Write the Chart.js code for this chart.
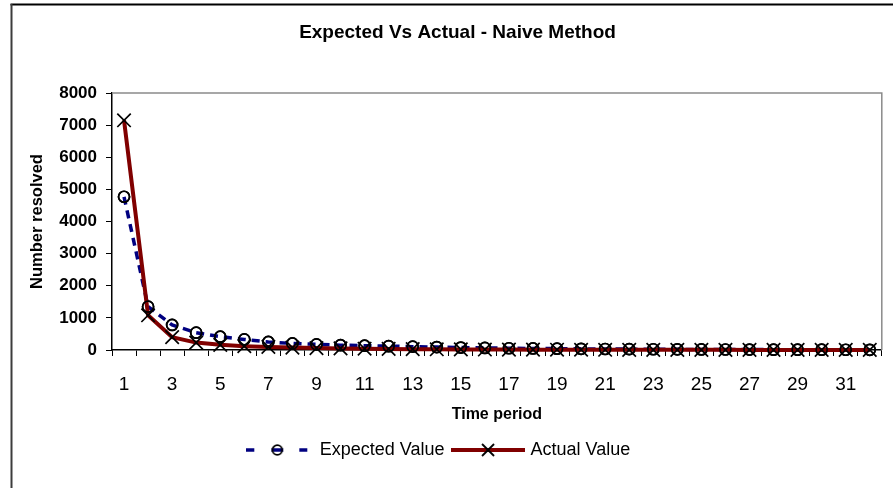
<!DOCTYPE html>
<html>
<head>
<meta charset="utf-8">
<title>Expected Vs Actual - Naive Method</title>
<script src="https://cdn.jsdelivr.net/npm/chart.js@4.4.1/dist/chart.umd.min.js"></script>
<style>
  html, body { margin: 0; padding: 0; background: #fff; }
  #wrap { width: 893px; height: 488px; position: relative; }
</style>
</head>
<body>
<div id="wrap"><canvas id="chart" width="893" height="488"></canvas></div>
<script>
// Time periods on the x axis
const periods = ['1','2','3','4','5','6','7','8','9','10','11','12','13','14','15','16',
                 '17','18','19','20','21','22','23','24','25','26','27','28','29','30','31','32'];

// Number resolved per period
const expectedValues = [4770, 1350, 780, 540, 415, 330, 250, 205, 175, 150, 135, 120, 105, 90, 75, 65,
                        55, 48, 42, 36, 31, 27, 23, 20, 17, 15, 13, 11, 10, 9, 8, 7];
const actualValues   = [7150, 1080, 400, 230, 160, 120, 95, 75, 60, 50, 40, 33, 27, 22, 18, 15,
                        12, 10, 9, 8, 7, 6, 5, 5, 4, 4, 3, 3, 3, 2, 2, 2];

// Value axis tick marks
const yTicks = [0, 1000, 2000, 3000, 4000, 5000, 6000, 7000, 8000];

const seriesNames = ['Expected Value', 'Actual Value'];
const chartTitle = 'Expected Vs Actual - Naive Method';

const FONT = "'Liberation Sans', Arial, Helvetica, sans-serif";
Chart.defaults.font.family = FONT;
Chart.defaults.color = '#000';

// Small line-and-marker samples for the legend
function swatchExpected() {
  const c = document.createElement('canvas');
  c.width = 62; c.height = 14;
  const g = c.getContext('2d');
  g.strokeStyle = '#000080';
  g.lineWidth = 3.5;
  [[0, 8], [25, 37], [53, 61]].forEach(([a, b]) => {
    g.beginPath(); g.moveTo(a, 7); g.lineTo(b, 7); g.stroke();
  });
  g.strokeStyle = '#000';
  g.lineWidth = 1.8;
  g.beginPath(); g.arc(31, 7, 4.8, 0, Math.PI * 2); g.stroke();
  return c;
}
function swatchActual() {
  const c = document.createElement('canvas');
  c.width = 74; c.height = 16;
  const g = c.getContext('2d');
  g.strokeStyle = '#800000';
  g.lineWidth = 4;
  g.beginPath(); g.moveTo(0, 8); g.lineTo(74, 8); g.stroke();
  g.strokeStyle = '#000';
  g.lineWidth = 1.8;
  g.beginPath();
  g.moveTo(31, 2); g.lineTo(43, 14);
  g.moveTo(43, 2); g.lineTo(31, 14);
  g.stroke();
  return c;
}
const swatches = [swatchExpected(), swatchActual()];

// Page frame, plot-area outline and the chart heading
const framePlugin = {
  id: 'frame',
  beforeDraw(chart) {
    const ctx = chart.ctx;
    ctx.save();
    ctx.fillStyle = '#fff';
    ctx.fillRect(0, 0, chart.width, chart.height);
    ctx.lineWidth = 2;
    ctx.strokeStyle = '#000';
    ctx.beginPath(); ctx.moveTo(10.5, 4.5); ctx.lineTo(chart.width, 4.5); ctx.stroke();
    ctx.strokeStyle = '#3c3c3c';
    ctx.beginPath(); ctx.moveTo(11.5, 4); ctx.lineTo(11.5, chart.height); ctx.stroke();
    ctx.font = 'bold 19px ' + FONT;
    ctx.fillStyle = '#000';
    ctx.textAlign = 'center';
    ctx.textBaseline = 'alphabetic';
    ctx.fillText(chartTitle, 457.5, 37.5);
    ctx.restore();
  },
  beforeDatasetsDraw(chart) {
    const {ctx, chartArea: a} = chart;
    ctx.save();
    ctx.strokeStyle = '#8a8a8a';
    ctx.lineWidth = 1.5;
    ctx.beginPath();
    ctx.moveTo(a.left, a.top); ctx.lineTo(a.right, a.top); ctx.lineTo(a.right, a.bottom);
    ctx.stroke();
    ctx.restore();
  },
  // keep the circle markers above the solid line
  afterDatasetsDraw(chart) {
    const meta = chart.getDatasetMeta(0);
    meta.data.forEach(pt => pt.draw(chart.ctx, chart.chartArea));
  }
};

new Chart(document.getElementById('chart'), {
  type: 'line',
  data: {
    labels: periods,
    datasets: [
      {
        label: seriesNames[0],
        data: expectedValues,
        order: 2,
        borderColor: '#000080',
        borderWidth: 3.5,
        borderDash: [8, 6],
        tension: 0,
        fill: false,
        clip: false,
        pointStyle: 'circle',
        pointRadius: 5.5,
        pointHoverRadius: 5.5,
        pointBorderColor: '#000',
        pointBorderWidth: 1.7,
        pointBackgroundColor: 'rgba(0,0,0,0)'
      },
      {
        label: seriesNames[1],
        data: actualValues,
        order: 1,
        borderColor: '#800000',
        borderWidth: 4,
        tension: 0,
        fill: false,
        clip: false,
        pointStyle: 'crossRot',
        pointRadius: 9.5,
        pointHoverRadius: 9.5,
        pointBorderColor: '#000',
        pointBorderWidth: 1.7,
        pointBackgroundColor: '#000'
      }
    ]
  },
  options: {
    responsive: false,
    animation: false,
    events: [],
    layout: { padding: { top: 93, left: -12, right: 7, bottom: 19 } },
    plugins: {
      title: { display: false },
      tooltip: { enabled: false },
      legend: {
        display: true,
        position: 'bottom',
        labels: {
          usePointStyle: true,
          pointStyleWidth: 67,
          boxHeight: 18,
          padding: 10,
          font: { size: 18 },
          color: '#000',
          generateLabels(chart) {
            return chart.data.datasets.map((ds, i) => ({
              text: ds.label,
              pointStyle: swatches[i],
              fillStyle: 'rgba(0,0,0,0)',
              strokeStyle: 'rgba(0,0,0,0)',
              lineWidth: 0,
              hidden: false,
              datasetIndex: i,
              fontColor: '#000'
            }));
          }
        }
      }
    },
    scales: {
      x: {
        type: 'category',
        offset: true,
        afterFit(scale) { scale.height = 81; },
        grid: {
          offset: true,
          drawOnChartArea: false,
          drawTicks: true,
          tickLength: 6,
          tickColor: '#000',
          tickWidth: 1
        },
        border: { display: true, color: '#000', width: 1.5 },
        ticks: {
          autoSkip: false,
          maxRotation: 0,
          minRotation: 0,
          padding: 17,
          font: { size: 19 },
          color: '#000',
          callback(value, index) { return index % 2 === 0 ? periods[index] : ''; }
        },
        title: {
          display: true,
          text: 'Time period',
          font: { size: 16, weight: 'bold' },
          color: '#000',
          padding: { top: 0, bottom: 7 }
        }
      },
      y: {
        type: 'linear',
        min: 0,
        max: 8000,
        afterFit(scale) { scale.width = 124; },
        afterBuildTicks(scale) { scale.ticks = yTicks.map(v => ({ value: v })); },
        grid: {
          drawOnChartArea: false,
          drawTicks: true,
          tickLength: 6,
          tickColor: '#000',
          tickWidth: 1
        },
        border: { display: true, color: '#000', width: 1.5 },
        ticks: {
          padding: 9,
          font: { size: 17, weight: 'bold' },
          color: '#000',
          callback(value) { return String(value); }
        },
        title: {
          display: true,
          text: 'Number resolved',
          font: { size: 16.5, weight: 'bold' },
          color: '#000',
          padding: { top: 40, bottom: 0 }
        }
      }
    }
  },
  plugins: [framePlugin]
});
</script>
</body>
</html>
